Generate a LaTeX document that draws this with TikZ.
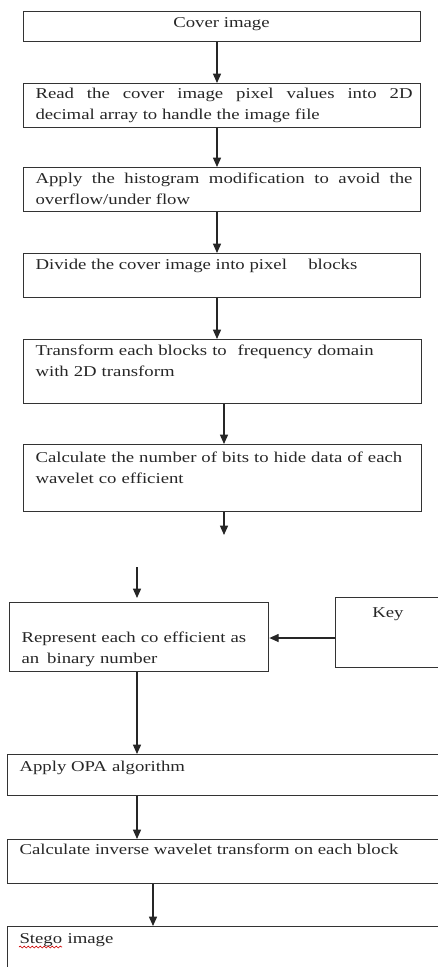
\documentclass[tikz,border=0pt]{standalone}
\usepackage{fontspec}
\setmainfont{Liberation Serif}[FakeStretch=1.25]
\usetikzlibrary{arrows.meta,decorations.pathmorphing}

\tikzset{every picture/.style={line width=0.75pt}}
\tikzset{
  stepbox/.style={draw=black!80, line width=1pt, rectangle, anchor=north west, inner sep=0pt},
  boxsize/.style 2 args={minimum width=#1*0.75pt, minimum height=#2*0.75pt},
  steptext/.style={anchor=base west, inner sep=0pt, text=black!85, font=\fontsize{11.25}{15.75}\selectfont},
  flow/.style={draw=black!85, line width=1pt, -{Triangle[length=7pt,width=6pt]}}
}

\begin{document}
\begin{tikzpicture}[x=0.75pt,y=0.75pt,yscale=-1,xscale=1]
\useasboundingbox (0,0) rectangle (438,967);
\clip (0,0) rectangle (438,967);

% Columns of the arrows
\coordinate (lineA) at (217,0);
\coordinate (lineB) at (224,0);
\coordinate (lineC) at (137,0);
\coordinate (lineD) at (153,0);
\coordinate (keyrow) at (0,638);
\coordinate (gapend) at (224,535);
\coordinate (gapstart) at (137,567);

% Text Node
\node [stepbox, boxsize={397}{30}] (cover) at (23,11) {};
\node [steptext, anchor=base] (tcover) at (221.5,27) {Cover image};
% Text Node
\node [stepbox, boxsize={397}{44}] (read) at (23,83) {};
\node [steptext, text width=282.75pt, align=justify] (tread) at (35,98) {Read the cover image pixel values into 2D\linebreak decimal array to handle the image file};
% Text Node
\node [stepbox, boxsize={397}{44}] (hist) at (23,167) {};
\node [steptext, text width=282.75pt, align=justify] (thist) at (35,183) {Apply the histogram modification to avoid the\linebreak overflow/under flow};
% Text Node
\node [stepbox, boxsize={397}{44}] (divide) at (23,253) {};
\node [steptext] (tdivide) at (35,269) {Divide the cover image into pixel\hspace{16pt}blocks};
% Text Node
\node [stepbox, boxsize={398}{64}] (trans) at (23,339) {};
\node [steptext, text width=285pt, align=left] (ttrans) at (35,355) {Transform each blocks to\hspace{8pt}frequency domain\\with 2D transform};
% Text Node
\node [stepbox, boxsize={398}{67}] (bits) at (23,444) {};
\node [steptext, text width=285pt, align=left] (tbits) at (35,462) {Calculate the number of bits to hide data of each\\wavelet co efficient};
% Text Node
\node [stepbox, boxsize={259}{69}] (represent) at (9,602) {};
\node [steptext, text width=187.5pt, align=left] (trepresent) at (21,642) {Represent each co efficient as\\an\hspace{6pt}binary number};
% Text Node
\node [stepbox, boxsize={150}{70}] (key) at (335,597) {};
\node [steptext, anchor=base] (tkey) at (388,617) {Key};
% Text Node
\node [stepbox, boxsize={460}{41}] (opa) at (7,754) {};
\node [steptext] (topa) at (19,771) {Apply OPA\hspace{4pt}algorithm};
% Text Node
\node [stepbox, boxsize={460}{44}] (inverse) at (7,839) {};
\node [steptext] (tinverse) at (19,854) {Calculate inverse wavelet transform on each block};
% Text Node
\node [stepbox, boxsize={460}{70}] (stego) at (7,926) {};
\node [steptext] (tstego) at (19,943) {Stego\hspace{4pt}image};
\draw [red!80!black, line width=0.5pt, decorate, decoration={snake, amplitude=0.7pt, segment length=3pt}] (tstego.base west) ++(0,4) -- ++(43,0);

% Connection
\draw [flow] (cover.south -| lineA) -- (read.north -| lineA);
% Connection
\draw [flow] (read.south -| lineA) -- (hist.north -| lineA);
% Connection
\draw [flow] (hist.south -| lineA) -- (divide.north -| lineA);
% Connection
\draw [flow] (divide.south -| lineA) -- (trans.north -| lineA);
% Connection
\draw [flow] (trans.south -| lineB) -- (bits.north -| lineB);
% Connection
\draw [flow] (bits.south -| lineB) -- (gapend);
% Connection
\draw [flow, shorten >=3pt] (gapstart) -- (represent.north -| lineC);
% Connection
\draw [flow] (key.west |- keyrow) -- (represent.east |- keyrow);
% Connection
\draw [flow] (represent.south -| lineC) -- (opa.north -| lineC);
% Connection
\draw [flow] (opa.south -| lineC) -- (inverse.north -| lineC);
% Connection
\draw [flow] (inverse.south -| lineD) -- (stego.north -| lineD);

\end{tikzpicture}
\end{document}
